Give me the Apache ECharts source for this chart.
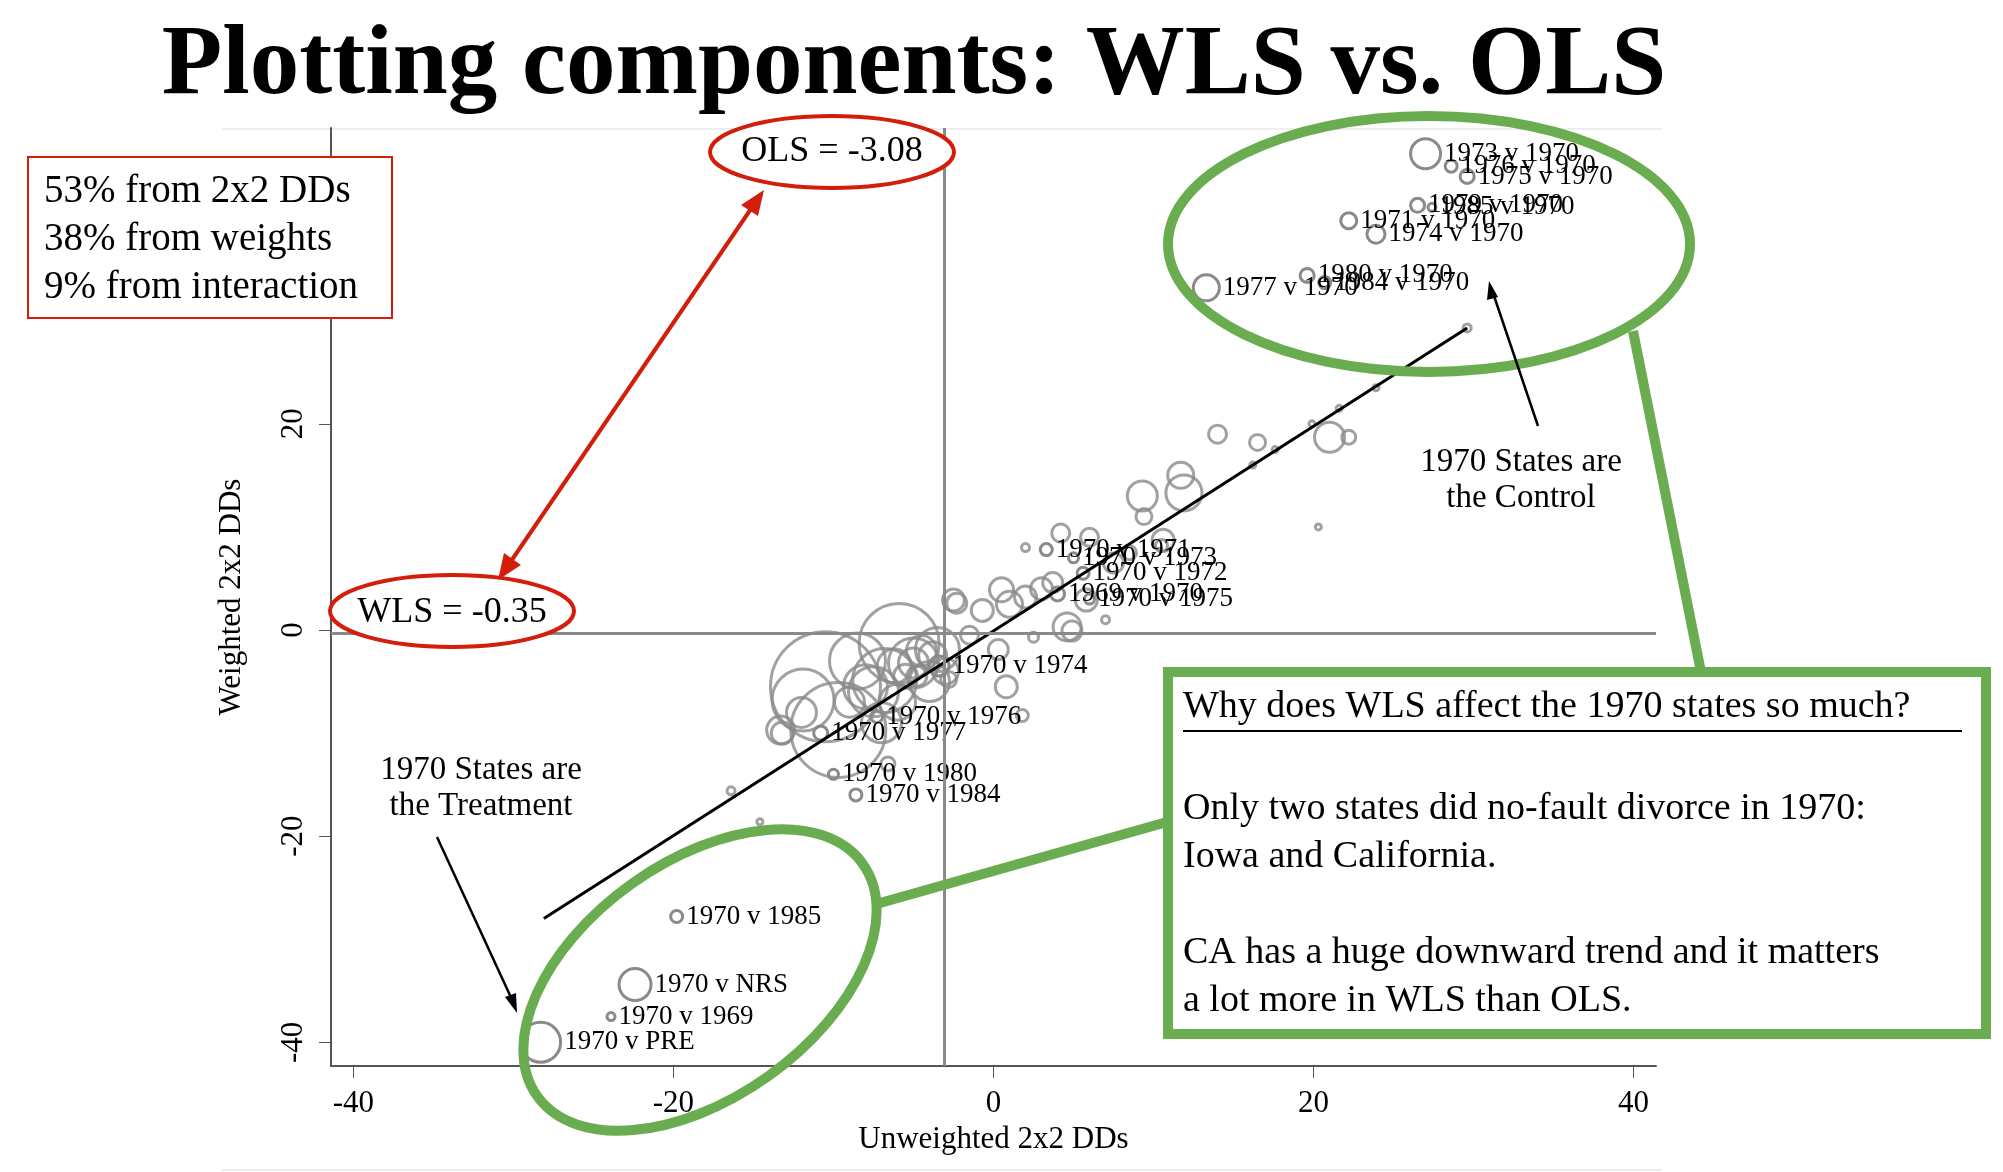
<!DOCTYPE html>
<html lang="en">
  <head>
    <meta charset="UTF-8" />
    <title>Plotting components: WLS vs. OLS</title>
    <style>
      body { margin: 0; background: #fff; }
    </style>
  </head>
  <body>
    <div id="main" style="width: 2003px; height: 1172px"></div>
    <script src="https://cdn.jsdelivr.net/npm/echarts@6/dist/echarts.min.js"></script>
    <script>
      var myChart = echarts.init(document.getElementById("main"), null, { renderer: "canvas" });

      // 标注的点
      var labNames = ["1973 v 1970", "1976 v 1970", "1975 v 1970", "1979 v 1970", "1985 v 1970",
        "1971 v 1970", "1974 v 1970", "1980 v 1970", "1984 v 1970", "1977 v 1970",
        "1970 v 1985", "1970 v NRS", "1970 v 1969", "1970 v PRE", "1970 v 1974",
        "1970 v 1976", "1970 v 1977", "1970 v 1980", "1970 v 1984", "1970 v 1971",
        "1970 v 1973", "1970 v 1972", "1969 v 1970", "1970 v 1975"];
      var labX = [27, 28.6, 29.6, 26.5, 27.4, 22.2, 23.9, 19.6, 20.7, 13.3,
        -19.8, -22.4, -23.9, -28.3, -3.4, -7.3, -10.8, -10, -8.6, 3.3, 5.0, 5.6, 4.0, 6.0];
      var labY = [46.2, 45, 44, 41.2, 41.0, 39.7, 38.4, 34.4, 33.7, 33.2,
        -27.8, -34.4, -37.5, -40, -3.5, -8.4, -10, -14, -16, 7.8, 7.0, 5.5, 3.5, 3.0];
      var labSize = [30, 12, 14, 14, 8, 16, 18, 14, 12, 26,
        12, 32, 8, 40, 20, 12, 14, 10, 12, 12, 10, 12, 14, 10];

      // 未标注的点
      var ptX = [-5.9, -10.5, -9.7, -11.9, -5, -5, -6.8, -3.5, -13.3, -2.5, -0.7, 0.5, 0.3, 2,
        2.5, 4.6, 4.2, 6, 5.8, 3.7, 10.6, 9.4, 2, 7, 14, 16.5, 21, 22.2, 9.3, 11.7, 11.9, 10.5,
        4.9, 20.3, -16.4, -14.6, -13.2, -6.6, -2.3, 17.6, 16.2, 19.9, 21.6, 23.9, 29.6,
        -7.5, -4, -8.5, -6, -4.5, -3, -1.5, 1, 3, 7.5, 8.5, -12, -7, -5.5, 1.8, 0.8,
        -4.8, -6.2, -3.8, -8, -9, -2.8];
      var ptY = [-1.3, -5.5, -9.7, -6.8, -3.2, -3.2, -4.9, -1.9, -9.7, 2.9, 1.9, 3.9, -1.9, 3.2,
        -0.7, 0.3, 9.4, 9, 2.9, 4.6, 8.7, 11, 8, 1, 19, 18.2, 18.7, 18.7, 13, 15, 13.3, 8.2,
        -0.1, 10, -15.6, -18.6, -10, -13, 2.6, 17.5, 16, 20, 21.5, 23.5, 29.3,
        -6, -5, -3, -7, -2, -4, -0.5, 2.5, 4, 6.5, 7.5, -8, -9, -4.5, -8.3, -5.5,
        -4.5, -3.5, -2.5, -5.5, -7, -4.8];
      var ptSize = [80, 110, 95, 62, 50, 30, 64, 44, 28, 22, 22, 24, 20, 22,
        10, 28, 18, 18, 22, 20, 22, 16, 8, 8, 18, 16, 30, 14, 30, 26, 36, 12,
        20, 6, 8, 6, 22, 14, 20, 6, 6, 6, 6, 6, 8,
        50, 40, 56, 36, 30, 26, 18, 26, 22, 20, 14, 30, 40, 24, 12, 22,
        20, 34, 28, 44, 30, 16];

      var olsVal = -3.08;
      var wlsVal = -0.35;
      var lineX = [-28.1, 29.6];
      var lineY = [-28.0, 29.3];
      var xTicks = [-40, -20, 0, 20, 40];
      var yTicks = [-40, -20, 0, 20, 40];

      var serif = "Liberation Serif";
      var gray = "#8a8a8a";
      var green = "#6aad50";
      var red = "#d21e0a";

      var labData = labNames.map(function (n, i) {
        return { name: n, value: [labX[i], labY[i], labSize[i]] };
      });
      var ptData = ptX.map(function (x, i) {
        return [x, ptY[i], ptSize[i]];
      });

      var option = {
        backgroundColor: "#fff",
        animation: false,
        grid: { left: 331, right: 347, top: 128, bottom: 106 },
        xAxis: {
          type: "value", min: -41.4, max: 41.4,
          name: "Unweighted 2x2 DDs", nameLocation: "middle", nameGap: 58,
          nameTextStyle: { fontFamily: serif, fontSize: 31, color: "#000" },
          splitLine: { show: false },
          axisLine: { onZero: false, lineStyle: { color: "#555", width: 2 } },
          axisTick: { customValues: xTicks, length: 12, lineStyle: { color: "#555" } },
          axisLabel: { customValues: xTicks, margin: 22, fontFamily: serif, fontSize: 31, color: "#000" }
        },
        yAxis: {
          type: "value", min: -42.3, max: 48.7,
          name: "Weighted 2x2 DDs", nameLocation: "middle", nameGap: 84,
          nameTextStyle: { fontFamily: serif, fontSize: 31, color: "#000" },
          splitLine: { show: false },
          axisLine: { onZero: false, lineStyle: { color: "#555", width: 2 } },
          axisTick: { customValues: yTicks, length: 12, lineStyle: { color: "#555" } },
          axisLabel: { customValues: yTicks, rotate: 90, margin: 22, fontFamily: serif, fontSize: 31, color: "#000" }
        },
        series: [
          {
            type: "scatter",
            data: ptData,
            symbolSize: function (v) { return v[2]; },
            itemStyle: { color: "rgba(0,0,0,0)", borderColor: gray, borderWidth: 3 },
            markLine: {
              silent: true, symbol: "none", label: { show: false },
              lineStyle: { color: gray, width: 3, type: "solid" },
              data: [{ xAxis: olsVal }, { yAxis: wlsVal }]
            }
          },
          {
            type: "scatter",
            data: labData,
            symbolSize: function (v) { return v[2]; },
            itemStyle: { color: "rgba(0,0,0,0)", borderColor: gray, borderWidth: 3, opacity: 1 },
            label: {
              show: true, position: "right", distance: 2,
              formatter: "{b}", fontFamily: serif, fontSize: 27, color: "#000"
            }
          },
          {
            type: "line",
            data: lineX.map(function (x, i) { return [x, lineY[i]]; }),
            symbol: "none",
            lineStyle: { color: "#000", width: 3 },
            z: 3
          }
        ],
        graphic: [
          { type: "line", shape: { x1: 222, y1: 129, x2: 1662, y2: 129 }, style: { stroke: "#eee", lineWidth: 2 } },
          { type: "line", shape: { x1: 222, y1: 1170, x2: 1662, y2: 1170 }, style: { stroke: "#eee", lineWidth: 2 } },
          {
            type: "text", x: 914, y: 18, z: 100,
            style: { text: "Plotting components: WLS vs. OLS", font: "bold 99px 'Liberation Serif'", fill: "#000", align: "center" }
          },
          // 红色文字框
          { type: "rect", shape: { x: 28, y: 157, width: 364, height: 161 }, style: { fill: "#fff", stroke: red, lineWidth: 2 }, z: 100 },
          {
            type: "text", x: 44, y: 168, z: 101,
            style: { text: "53% from 2x2 DDs\n38% from weights\n9% from interaction", font: "39px 'Liberation Serif'", lineHeight: 48, fill: "#000" }
          },
          // OLS / WLS 椭圆
          { type: "ellipse", shape: { cx: 832, cy: 152, rx: 122, ry: 36 }, style: { fill: "#fff", stroke: red, lineWidth: 4 }, z: 100 },
          { type: "text", x: 832, y: 152, z: 101, style: { text: "OLS = -3.08", font: "36px 'Liberation Serif'", fill: "#000", align: "center", verticalAlign: "middle" } },
          { type: "ellipse", shape: { cx: 452, cy: 611, rx: 122, ry: 36 }, style: { fill: "#fff", stroke: red, lineWidth: 4 }, z: 100 },
          { type: "text", x: 452, y: 613, z: 101, style: { text: "WLS = -0.35", font: "36px 'Liberation Serif'", fill: "#000", align: "center", verticalAlign: "middle" } },
          { type: "line", shape: { x1: 757, y1: 200, x2: 505, y2: 570 }, style: { stroke: red, lineWidth: 4 }, z: 100 },
          { type: "polygon", shape: { points: [[764, 190], [741, 205], [758, 216]] }, style: { fill: red }, z: 100 },
          { type: "polygon", shape: { points: [[498, 580], [504, 553], [521, 565]] }, style: { fill: red }, z: 100 },
          // 绿色椭圆
          { type: "ellipse", shape: { cx: 1429, cy: 244, rx: 261, ry: 128 }, style: { fill: "none", stroke: green, lineWidth: 10 }, z: 100 },
          { type: "ellipse", x: 700, y: 980, rotation: 0.62, shape: { cx: 0, cy: 0, rx: 200, ry: 118 }, style: { fill: "none", stroke: green, lineWidth: 10 }, z: 100 },
          { type: "line", shape: { x1: 1633, y1: 331, x2: 1701, y2: 672 }, style: { stroke: green, lineWidth: 10 }, z: 100 },
          { type: "line", shape: { x1: 880, y1: 903, x2: 1167, y2: 822 }, style: { stroke: green, lineWidth: 10 }, z: 100 },
          { type: "rect", shape: { x: 1168, y: 672, width: 818, height: 362 }, style: { fill: "#fff", stroke: green, lineWidth: 10 }, z: 100 },
          {
            type: "text", x: 1183, y: 688, z: 101,
            style: { text: "Why does WLS affect the 1970 states so much?", font: "38px 'Liberation Serif'", fill: "#000" }
          },
          { type: "line", shape: { x1: 1183, y1: 731, x2: 1962, y2: 731 }, style: { stroke: "#000", lineWidth: 2 }, z: 101 },
          {
            type: "text", x: 1183, y: 785, z: 101,
            style: {
              text: "Only two states did no-fault divorce in 1970:\nIowa and California.\n\nCA has a huge downward trend and it matters\na lot more in WLS than OLS.",
              font: "38px 'Liberation Serif'", lineHeight: 48, fill: "#000"
            }
          },
          // 控制组/处理组
          {
            type: "text", x: 1521, y: 444, z: 101,
            style: { text: "1970 States are\nthe Control", font: "33px 'Liberation Serif'", lineHeight: 36, fill: "#000", align: "center" }
          },
          { type: "line", shape: { x1: 1538, y1: 426, x2: 1492, y2: 290 }, style: { stroke: "#000", lineWidth: 2.5 }, z: 101 },
          { type: "polygon", shape: { points: [[1489, 281], [1487, 300], [1498, 297]] }, style: { fill: "#000" }, z: 101 },
          {
            type: "text", x: 481, y: 752, z: 101,
            style: { text: "1970 States are\nthe Treatment", font: "33px 'Liberation Serif'", lineHeight: 36, fill: "#000", align: "center" }
          },
          { type: "line", shape: { x1: 437, y1: 837, x2: 514, y2: 1004 }, style: { stroke: "#000", lineWidth: 2.5 }, z: 101 },
          { type: "polygon", shape: { points: [[517, 1013], [505, 997], [516, 993]] }, style: { fill: "#000" }, z: 101 }
        ]
      };
      myChart.setOption(option);
    </script>
  </body>
</html>
